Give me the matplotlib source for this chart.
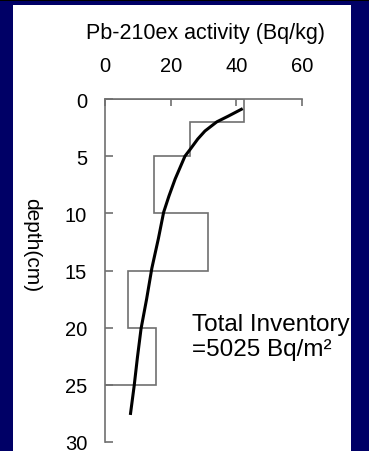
import matplotlib
matplotlib.use('Agg')
import matplotlib.pyplot as plt
from matplotlib.patches import Rectangle

# measured Pb-210ex profile (depth bins in cm, activity in Bq/kg)
bin_edges = [0, 2, 5, 10, 15, 20, 25]
bin_activity = [42.3, 25.8, 14.9, 31.4, 7.0, 15.5]

# fitted curve
fit_depth = [0.9, 1.5, 2.0, 2.8, 3.5, 4.4, 5.0, 6.0, 7.0, 8.5, 9.9,
             12.2, 14.8, 17.5, 20.1, 22.6, 25.1, 27.5]
fit_activity = [41.5, 37.5, 34.0, 30.4, 28.2, 25.9, 24.3, 22.8, 21.3, 19.4,
                17.8, 16.2, 14.2, 12.6, 10.9, 9.8, 8.8, 7.7]

x_ticks = [0, 20, 40, 60]
y_ticks = [0, 5, 10, 15, 20, 25, 30]

plt.rcParams['font.family'] = ['Liberation Sans', 'DejaVu Sans']

W, H = 369, 452
fig = plt.figure(figsize=(W / 100, H / 100), dpi=100, facecolor='#000066')

# slide-style frame: black strip on top, white panel inside the navy border
fig.patches.append(Rectangle((0, 1 - 2 / H), 1, 2 / H, transform=fig.transFigure,
                             facecolor='black', edgecolor='none', zorder=0))
fig.patches.append(Rectangle((13 / W, 0), (351 - 13) / W, (H - 6) / H,
                             transform=fig.transFigure, facecolor='white',
                             edgecolor='none', zorder=0))

ax = fig.add_axes([105.3 / W, (H - 443) / H, 196.7 / W, 343 / H])
ax.set_zorder(2)
ax.patch.set_alpha(0)

ax.stairs(bin_activity, bin_edges, orientation='horizontal', baseline=0,
          color='#707070', linewidth=1.2)
ax.plot(fit_activity, fit_depth, color='black', linewidth=2.2)

ax.set_xlim(0, 60)
ax.set_ylim(30, 0)
ax.set_xticks(x_ticks)
ax.set_yticks(y_ticks)
ax.xaxis.tick_top()
for side in ['right', 'bottom']:
    ax.spines[side].set_visible(False)
for side in ['left', 'top']:
    ax.spines[side].set_color('#707070')
    ax.spines[side].set_linewidth(1.2)
ax.tick_params(axis='x', direction='in', length=5, width=1.2, color='#707070',
               pad=17, labelsize=14.5)
ax.tick_params(axis='y', direction='in', length=6, width=1.2, color='#707070',
               pad=13, labelsize=14.5)

fig.text(205 / W, 1 - 33 / H, 'Pb-210ex activity (Bq/kg)', ha='center',
         va='center', fontsize=15.5, zorder=3)
fig.text(32 / W, 1 - 245 / H, 'depth(cm)', rotation=270, ha='center',
         va='center', fontsize=15, zorder=3)
ax.text(26.4, 22.4, 'Total Inventory\n=5025 Bq/m\u00b2', ha='left',
        va='baseline', fontsize=17.5, linespacing=1.2, zorder=5, clip_on=False)

fig.savefig('out.png', dpi=100, facecolor=fig.get_facecolor())
